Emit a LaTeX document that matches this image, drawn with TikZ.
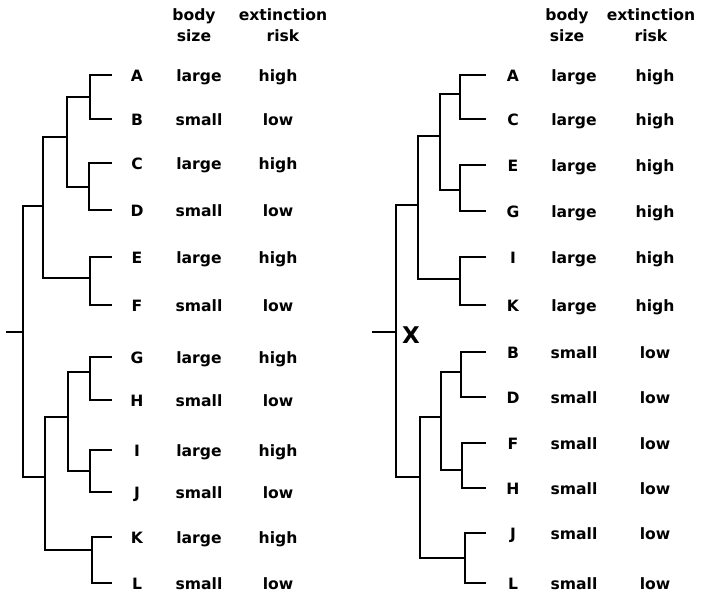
\documentclass[tikz,border=0pt]{standalone}
\usepackage{fontspec}
\setmainfont{DejaVu Sans}
\begin{document}
\begin{tikzpicture}[x=0.5pt,y=-0.5pt,
  branch/.style={line width=1.15pt,line join=miter},
  stub/.style={line width=0.75pt},
  head/.style={font=\fontsize{7.8}{10.5}\selectfont\bfseries,inner sep=0pt,align=center},
  txt/.style={font=\fontsize{7.8}{10.5}\selectfont\bfseries,inner sep=0pt,
    text height=1.55ex,text depth=0.45ex}]
  \useasboundingbox (0,0) rectangle (704,594);
  % column heads
  \foreach \s/\x/\t in {L/194/{body\\size},L/283/{extinction\\risk},R/567/{body\\size},R/651/{extinction\\risk}}
    \node[head] (\s-head\x) at (\x,25) {\t};
  % left tree: leaves
  \foreach \n/\y/\s/\r in {A/75/large/high,B/119/small/low,C/163/large/high,D/210/small/low,
    E/257/large/high,F/305/small/low,G/357/large/high,H/400/small/low,
    I/450/large/high,J/492/small/low,K/537/large/high,L/583/small/low}
  {
    \node[txt] (L-\n) at (137,\y) {\n};
    \node[txt] (L-\n-size) at (199,\y) {\s};
    \node[txt] (L-\n-risk) at (278,\y) {\r};
    \coordinate (L-\n-tip) at (112,\y);
  }
  \coordinate (L-AB) at (90,97);
  \coordinate (L-CD) at (89,187);
  \coordinate (L-ABCD) at (67,137);
  \coordinate (L-EF) at (90,278);
  \coordinate (L-AF) at (43,206);
  \coordinate (L-GH) at (90,372);
  \coordinate (L-IJ) at (90,471);
  \coordinate (L-GJ) at (68,417);
  \coordinate (L-KL) at (92,550);
  \coordinate (L-GL) at (45,477);
  \coordinate (L-root) at (23,332);
  \coordinate (L-stub) at (6,332);
  \foreach \a/\p/\b in {A-tip/AB/B-tip,C-tip/CD/D-tip,E-tip/EF/F-tip,G-tip/GH/H-tip,
    I-tip/IJ/J-tip,K-tip/KL/L-tip,AB/ABCD/CD,ABCD/AF/EF,GH/GJ/IJ,GJ/GL/KL,AF/root/GL}
    \draw[branch] (L-\a) -| (L-\p) |- (L-\b);
  \draw[stub] (L-root) -- (L-stub);
  % right tree: leaves
  \foreach \n/\y/\s/\r in {A/75/large/high,C/119/large/high,E/165/large/high,G/211/large/high,
    I/257/large/high,K/305/large/high,B/352/small/low,D/397/small/low,
    F/443/small/low,H/488/small/low,J/533/small/low,L/583/small/low}
  {
    \node[txt] (R-\n) at (513,\y) {\n};
    \node[txt] (R-\n-size) at (574,\y) {\s};
    \node[txt] (R-\n-risk) at (655,\y) {\r};
    \coordinate (R-\n-tip) at (486,\y);
  }
  \coordinate (R-AC) at (460,94);
  \coordinate (R-EG) at (460,190);
  \coordinate (R-ACEG) at (440,136);
  \coordinate (R-IK) at (460,279);
  \coordinate (R-AK) at (418,205);
  \coordinate (R-BD) at (461,372);
  \coordinate (R-FH) at (462,470);
  \coordinate (R-BH) at (441,417);
  \coordinate (R-JL) at (465,558);
  \coordinate (R-BL) at (420,477);
  \coordinate (R-root) at (396,332);
  \coordinate (R-stub) at (372,332);
  \foreach \a/\p/\b in {A-tip/AC/C-tip,E-tip/EG/G-tip,I-tip/IK/K-tip,B-tip/BD/D-tip,
    F-tip/FH/H-tip,J-tip/JL/L-tip,AC/ACEG/EG,ACEG/AK/IK,BD/BH/FH,BH/BL/JL,AK/root/BL}
    \draw[branch] (R-\a) -| (R-\p) |- (R-\b);
  \draw[stub] (R-root) -- (R-stub);
  \node[font=\fontsize{11.5}{13}\selectfont\bfseries,inner sep=0pt] (R-mark) at (411,335) {X};
\end{tikzpicture}
\end{document}
